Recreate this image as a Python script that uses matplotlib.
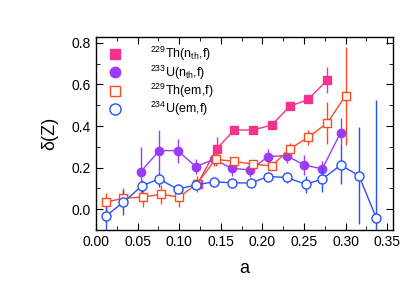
import numpy as np
import matplotlib
matplotlib.use('Agg')
import matplotlib.pyplot as plt
from matplotlib.lines import Line2D
from matplotlib.ticker import MultipleLocator

plt.rcParams['font.family'] = ['Liberation Sans', 'DejaVu Sans']
plt.rcParams['mathtext.fontset'] = 'custom'
plt.rcParams['mathtext.rm'] = 'Liberation Sans'

# 229Th(n_th,f)
a_th_n = [0.122, 0.145, 0.166, 0.189, 0.211, 0.233, 0.255, 0.278]
d_th_n = [0.122, 0.290, 0.381, 0.381, 0.405, 0.495, 0.528, 0.622]
e_th_n = [0.02, 0.055, 0.018, 0.018, 0.015, 0.015, 0.015, 0.064]

# 233U(n_th,f)
a_u_n = [0.054, 0.076, 0.098, 0.120, 0.142, 0.163, 0.185, 0.207, 0.229, 0.250, 0.272, 0.294]
d_u_n = [0.181, 0.282, 0.282, 0.205, 0.240, 0.197, 0.189, 0.253, 0.258, 0.213, 0.194, 0.368]
e_u_n = [0.12, 0.10, 0.058, 0.038, 0.03, 0.035, 0.035, 0.035, 0.035, 0.048, 0.04, 0.07]

# 229Th(em,f)
a_th_em = [0.012, 0.033, 0.056, 0.078, 0.100, 0.121, 0.144, 0.166, 0.189, 0.211, 0.233, 0.255, 0.278, 0.300]
d_th_em = [0.034, 0.053, 0.058, 0.072, 0.058, 0.122, 0.240, 0.230, 0.217, 0.208, 0.290, 0.346, 0.415, 0.546]
e_th_em = [0.045, 0.047, 0.045, 0.045, 0.045, 0.04, 0.03, 0.02, 0.02, 0.02, 0.03, 0.035, 0.1, 0.236]

# 234U(em,f)
a_u_em = [0.012, 0.033, 0.055, 0.076, 0.098, 0.120, 0.142, 0.164, 0.186, 0.207, 0.229, 0.252, 0.272, 0.294, 0.316, 0.337]
d_u_em = [-0.032, 0.034, 0.112, 0.146, 0.096, 0.117, 0.132, 0.127, 0.126, 0.157, 0.153, 0.120, 0.145, 0.212, 0.162, -0.043]
e_u_em = [0.075, 0.06, 0.03, 0.04, 0.025, 0.02, 0.02, 0.02, 0.02, 0.02, 0.025, 0.04, 0.06, 0.09, 0.235, 0.57]

c_pink = '#F5338F'
c_purple = '#9B3BF5'
c_red = '#FF4A1F'
c_blue = '#2850FF'

fig = plt.figure(figsize=(4.18, 2.91), dpi=100)
ax = fig.add_axes([0.2297, 0.2096, 0.7105, 0.6644])

kw = dict(lw=1.0, elinewidth=1.0, capsize=0)
ax.errorbar(a_th_n, d_th_n, yerr=e_th_n, color=c_pink, marker='s', ms=5.5,
            mfc=c_pink, mec=c_pink, zorder=2, **kw)
ax.errorbar(a_u_n, d_u_n, yerr=e_u_n, color=c_purple, marker='o', ms=6,
            mfc=c_purple, mec=c_purple, zorder=2, **kw)
ax.errorbar(a_th_em, d_th_em, yerr=e_th_em, color=c_red, marker='s', ms=6,
            mfc='white', mec=c_red, mew=1.0, zorder=3, **kw)
ax.errorbar(a_u_em, d_u_em, yerr=e_u_em, color=c_blue, marker='o', ms=6.5,
            mfc='white', mec=c_blue, mew=1.0, zorder=3, **kw)

handles = [
    Line2D([], [], ls='none', marker='s', ms=7, color=c_pink),
    Line2D([], [], ls='none', marker='o', ms=7.5, color=c_purple),
    Line2D([], [], ls='none', marker='s', ms=7.5, mfc='white', mec=c_red, mew=1.0),
    Line2D([], [], ls='none', marker='o', ms=8, mfc='white', mec=c_blue, mew=1.0),
]
labels = [r'$^{229}$Th(n$_{\mathrm{th}}$,f)', r'$^{233}$U(n$_{\mathrm{th}}$,f)',
          r'$^{229}$Th(em,f)', r'$^{234}$U(em,f)']
ax.legend(handles, labels, loc='upper left', bbox_to_anchor=(0.0, 1.02), frameon=False,
          fontsize=9, handlelength=1.0, handletextpad=2.3, labelspacing=0.0,
          borderaxespad=0.6)

ax.set_xlim(0, 0.357)
ax.set_ylim(-0.1, 0.83)
ax.xaxis.set_major_locator(MultipleLocator(0.05))
ax.xaxis.set_minor_locator(MultipleLocator(0.025))
ax.yaxis.set_major_locator(MultipleLocator(0.2))
ax.yaxis.set_minor_locator(MultipleLocator(0.1))
ax.xaxis.set_major_formatter(plt.FormatStrFormatter('%.2f'))
ax.yaxis.set_major_formatter(plt.FormatStrFormatter('%.1f'))
ax.tick_params(which='both', direction='in', top=True, right=True, labelsize=10)
ax.tick_params(which='major', length=5)
ax.tick_params(which='minor', length=3)
for s in ax.spines.values():
    s.set_linewidth(1.0)

ax.set_xlabel('a', fontsize=13, labelpad=8)
ax.set_ylabel('δ(Z)', fontsize=13, labelpad=10)

fig.savefig('out.png', dpi=100)
